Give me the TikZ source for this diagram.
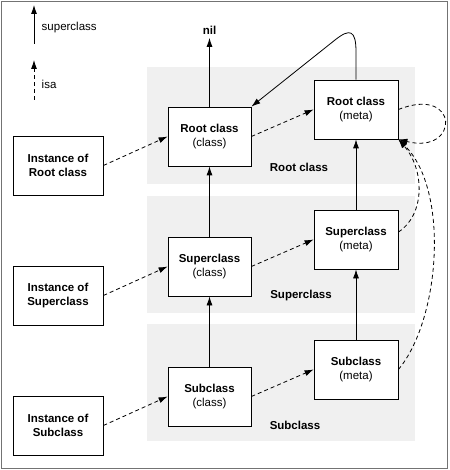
\documentclass[tikz,border=0pt]{standalone}
\usepackage{fontspec}
\setmainfont{Liberation Sans}
\usetikzlibrary{arrows.meta}

\newcommand{\diagfont}{\fontsize{11.5}{14.5}\selectfont}

\tikzstyle{cls} = [
    rectangle,
    draw,
    fill=white,
    align=center,
    minimum width=83pt,
    minimum height=59pt,
    inner sep=0pt
    ]
\tikzstyle{meta} = [cls, minimum width=84pt]
\tikzstyle{inst} = [cls, minimum width=90pt, font=\diagfont\bfseries]
\tikzstyle{band} = [fill=black!6, draw=none]
\tikzstyle{bandlabel} = [font=\diagfont\bfseries]
\tikzstyle{superline} = [-{Latex[length=9pt,width=6pt]}]
\tikzstyle{isaline} = [-{Latex[length=9pt,width=6pt]}, dash pattern=on 4pt off 3pt]

\begin{document}
\begin{tikzpicture}[x=1pt, y=-1pt, line width=0.8pt, font=\diagfont]
        \useasboundingbox (0,0) rectangle (449,470);
        \draw[black!55, line width=1pt] (1.5,1.5) rectangle (447.5,468.5);

        % Bands
        \fill[band] (147,67) rectangle (415,184);
        \fill[band] (147,196) rectangle (415,313);
        \fill[band] (147,324) rectangle (415,441);
        \node (LRoot) [bandlabel] at (299,167) {Root class};
        \node (LSuper) [bandlabel] at (301,296) {Superclass};
        \node (LSub) [bandlabel] at (295,425) {Subclass};

        % Legend
        \coordinate (S0) at (34,44);
        \coordinate (S1) at (34,5);
        \coordinate (I0) at (34,100);
        \coordinate (I1) at (34,60);
        \draw[superline] (S0) -- (S1);
        \draw[isaline] (I0) -- (I1);
        \node (LS) [anchor=west] at (38,28) {superclass};
        \node (LI) [anchor=west] at (38,84) {isa};

        % Instances
        \node (IR) [inst] at (58,165.5) {Instance of\\Root class};
        \node (IP) [inst] at (58,295.5) {Instance of\\Superclass};
        \node (IB) [inst] at (58,425.5) {Instance of\\Subclass};

        % Classes
        \node (CR) [cls] at (209.5,136.5) {\textbf{Root class}\\(class)};
        \node (CP) [cls] at (209.5,266.5) {\textbf{Superclass}\\(class)};
        \node (CB) [cls] at (209.5,396.5) {\textbf{Subclass}\\(class)};

        % Metaclasses
        \node (MR) [meta] at (356,109.5) {\textbf{Root class}\\(meta)};
        \node (MP) [meta] at (356,239.5) {\textbf{Superclass}\\(meta)};
        \node (MB) [meta] at (356,369.5) {\textbf{Subclass}\\(meta)};

        \node (nil) [font=\diagfont\bfseries] at (209.5,30) {nil};

        % Lines
        \draw[superline] (CR.north) -- (nil.south);
        \draw[superline] (CP.north) -- (CR.south);
        \draw[superline] (CB.north) -- (CP.south);
        \draw[superline] (MP.north) -- (MR.south);
        \draw[superline] (MB.north) -- (MP.south);
        \draw[superline] (MR.north) -- (356,52) .. controls (356,30) and (350,28) .. (335,40) -- (CR.north east);

        \draw[isaline] (IR.east) -- (CR.west);
        \draw[isaline] (IP.east) -- (CP.west);
        \draw[isaline] (IB.east) -- (CB.west);
        \draw[isaline] (CR.east) -- (MR.west);
        \draw[isaline] (CP.east) -- (MP.west);
        \draw[isaline] (CB.east) -- (MB.west);
        \draw[isaline] (MR.east) .. controls (460,85) and (460,155) .. (MR.south east);
        \draw[isaline] (MP.10) .. controls (425,215) and (425,170) .. (MR.south east);
        \draw[isaline] (MB.east) .. controls (440,320) and (450,190) .. (MR.south east);

    \end{tikzpicture}
\end{document}
